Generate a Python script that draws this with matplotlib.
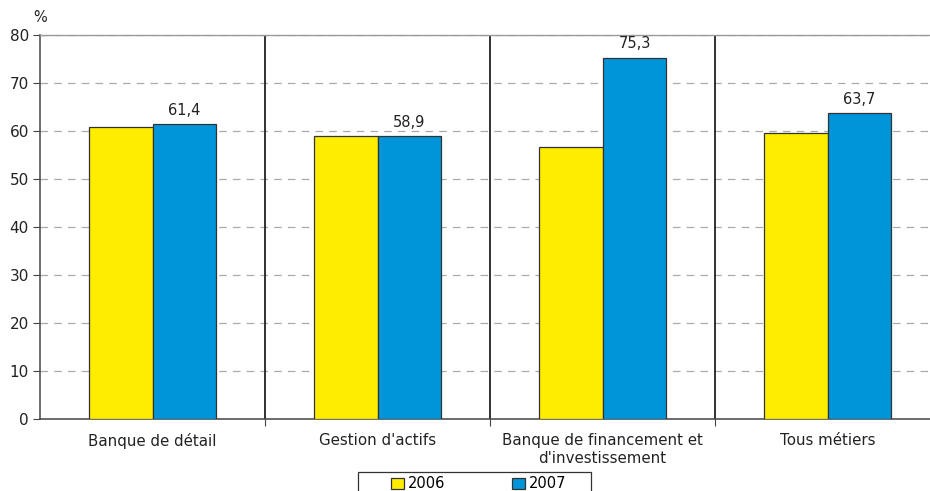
import matplotlib
matplotlib.use("Agg")
import matplotlib.pyplot as plt
from matplotlib.patches import Rectangle
import numpy as np

plt.rcParams['font.family'] = ['DejaVu Sans']

categories = ["Banque de détail", "Gestion d'actifs",
              "Banque de financement et\nd'investissement", "Tous métiers"]
series_names = ["2006", "2007"]
values_2006 = [60.8, 59.0, 56.6, 59.5]
values_2007 = [61.4, 58.9, 75.3, 63.7]
yticks = [0, 10, 20, 30, 40, 50, 60, 70, 80]

yellow = "#FFED00"
blue = "#0095D9"
W, H = 930, 491

fig = plt.figure(figsize=(W / 100, H / 100), dpi=100)
ax = fig.add_axes([40 / W, 1 - 419 / H, 900 / W, 384 / H])

x = np.arange(len(categories))
w = 0.284
b1 = ax.bar(x - w / 2, values_2006, w, color=yellow, edgecolor="#333333",
            linewidth=0.9, label=series_names[0], zorder=3)
b2 = ax.bar(x + w / 2, values_2007, w, color=blue, edgecolor="#333333",
            linewidth=0.9, label=series_names[1], zorder=3)

for xi, v in zip(x + w / 2, values_2007):
    ax.text(xi, v + 1.3, f"{v:.1f}".replace(".", ","), ha="center",
            va="bottom", fontsize=10.5, color="#222222")

ax.set_xlim(-0.5, len(categories) - 0.5)
ax.set_ylim(0, 80)
ax.set_yticks(yticks)
ax.set_yticklabels([str(t) for t in yticks], fontsize=11, color="#222222")
ax.yaxis.grid(True, linestyle=(0, (6, 5)), color="#aaaaaa", linewidth=0.9, zorder=0)

# group separators
for s in np.arange(0.5, len(categories) - 0.5, 1.0):
    ax.axvline(s, color="#222222", linewidth=1.3, zorder=2)

ax.set_xticks(np.arange(0.5, len(categories) - 0.5, 1.0))
ax.set_xticklabels([])
ax.set_xticks(x, minor=True)
ax.set_xticklabels(categories, minor=True, fontsize=10.8, color="#222222",
                   linespacing=1.3)
ax.tick_params(axis="x", which="minor", length=0, pad=10)
ax.tick_params(axis="x", which="major", length=5, color="#444444", direction="out")
ax.tick_params(axis="y", length=5, color="#444444", direction="out", pad=3)

for side in ("left", "bottom"):
    ax.spines[side].set_color("#444444")
    ax.spines[side].set_linewidth(1.1)
ax.spines["top"].set_color("#999999")
ax.spines["top"].set_linewidth(1.0)
ax.spines["right"].set_visible(False)

fig.text(40 / W, 1 - 18 / H, "%", ha="center", va="center",
         fontsize=10.5, color="#222222")

# legend box
fig.patches.append(Rectangle((358 / W, -0.01), (591 - 358) / W, 1 - 472 / H + 0.01,
                             transform=fig.transFigure, fill=False,
                             edgecolor="#333333", linewidth=0.9))
fig.legend(handles=[b1, b2], labels=series_names, ncol=2,
           loc="center", bbox_to_anchor=(479 / W, 1 - 484 / H),
           frameon=False, fontsize=10.5, handlelength=0.85, handleheight=0.85,
           handletextpad=0.3, columnspacing=4.6, borderpad=0.0)

fig.savefig("out.png", dpi=100)
